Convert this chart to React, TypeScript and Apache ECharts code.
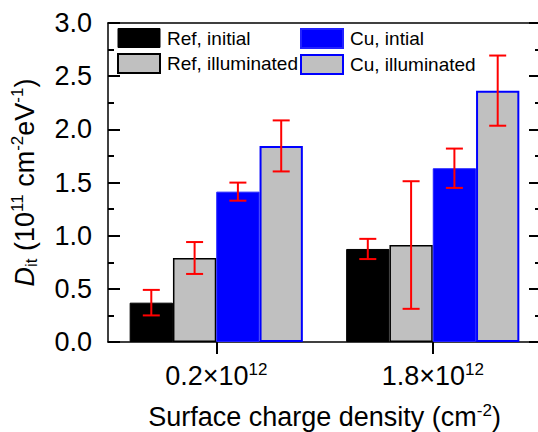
import React, { useEffect, useRef } from "react";
import * as echarts from "echarts";

// Surface charge density categories (mantissa of n×10^12 cm^-2)
const categories = ["0.2", "1.8"];
const categoryExponent = "12";

// Interface trap density D_it (10^11 cm^-2 eV^-1) and error half-widths
const refInitial = [0.37, 0.875];
const refInitialErr = [0.12, 0.095];
const refIlluminated = [0.79, 0.912];
const refIlluminatedErr = [0.15, 0.6];
const cuInitial = [1.414, 1.634];
const cuInitialErr = [0.085, 0.185];
const cuIlluminated = [1.844, 2.364];
const cuIlluminatedErr = [0.24, 0.33];

const seriesNames = ["Ref, initial", "Ref, illuminated", "Cu, intial", "Cu, illuminated"];

const FONT = '"Liberation Sans", Arial, sans-serif';
const BAR_FRACTION = 0.2;

const barStyles = [
  { color: "#000000", borderColor: "#000000", borderWidth: 1 },
  { color: "#c0c0c0", borderColor: "#000000", borderWidth: 1.5 },
  { color: "#0000ff", borderColor: "#2222ff", borderWidth: 1 },
  { color: "#c0c0c0", borderColor: "#0000ff", borderWidth: 2 },
];

function errorSeries(values: number[], errs: number[], slot: number) {
  return {
    type: "custom",
    name: seriesNames[slot] + " error",
    z: 10,
    silent: true,
    encode: { x: 0, y: 1 },
    data: values.map((v, i) => [i, v, errs[i]]),
    renderItem: (_params: any, api: any) => {
      const cat = api.value(0);
      const val = api.value(1);
      const err = api.value(2);
      const bw = api.size([1, 0])[0] * BAR_FRACTION;
      const top = api.coord([cat, val + err]);
      const bot = api.coord([cat, val - err]);
      const x = top[0] + (slot - 1.5) * bw;
      const cap = 8.5;
      const style = { stroke: "#ff0000", lineWidth: 2 };
      return {
        type: "group",
        children: [
          { type: "line", shape: { x1: x, y1: top[1], x2: x, y2: bot[1] }, style },
          { type: "line", shape: { x1: x - cap, y1: top[1], x2: x + cap, y2: top[1] }, style },
          { type: "line", shape: { x1: x - cap, y1: bot[1], x2: x + cap, y2: bot[1] }, style },
        ],
      };
    },
  };
}

export default function App() {
  const ref = useRef<HTMLDivElement>(null);

  useEffect(() => {
    if (!ref.current) return;
    const chart = echarts.init(ref.current, null, { renderer: "svg" });

    const valueSets = [refInitial, refIlluminated, cuInitial, cuIlluminated];
    const errSets = [refInitialErr, refIlluminatedErr, cuInitialErr, cuIlluminatedErr];

    const yAxisBase = () => ({
      type: "value",
      min: 0,
      max: 3,
      interval: 0.5,
      axisLine: { show: true, lineStyle: { color: "#000", width: 1.5 } },
      axisTick: { show: true, inside: true, length: 12, lineStyle: { color: "#000", width: 2 } },
      minorTick: { show: true, splitNumber: 2, length: 6, lineStyle: { color: "#000", width: 2 } },
      splitLine: { show: false },
      minorSplitLine: { show: false },
    });

    const legendCommon = {
      orient: "vertical",
      top: 28,
      itemWidth: 42,
      itemHeight: 19,
      itemGap: 5,
      padding: 0,
      icon: "rect",
      textStyle: { fontFamily: FONT, fontSize: 19, color: "#000", padding: [0, 0, 0, 2] },
    };

    const legendItem = (i: number) => ({
      name: seriesNames[i],
      itemStyle: { ...barStyles[i], borderWidth: i === 0 ? 1 : 2 },
    });

    chart.setOption({
      animation: false,
      backgroundColor: "#ffffff",
      grid: { left: 108, top: 23, width: 433, height: 319, outerBoundsMode: "none", containLabel: false },
      legend: [
        { ...legendCommon, left: 117, data: [legendItem(0), legendItem(1)] },
        { ...legendCommon, left: 300, data: [legendItem(2), legendItem(3)] },
      ],
      xAxis: [
        {
          type: "category",
          data: categories,
          boundaryGap: true,
          axisLine: { show: true, onZero: false, lineStyle: { color: "#000", width: 1.5 } },
          axisTick: { show: true, alignWithLabel: true, inside: false, length: 12, lineStyle: { color: "#000", width: 2 } },
          axisLabel: {
            margin: 19,
            formatter: (v: string) => `{base|${v}×10}{sup|${categoryExponent}}`,
            rich: {
              base: { fontFamily: FONT, fontSize: 27, color: "#000", lineHeight: 30 },
              sup: { fontFamily: FONT, fontSize: 17, color: "#000", lineHeight: 17, verticalAlign: "top" },
            },
          },
          name: "{t|Surface charge density (cm}{sup|-2}{t|)}",
          nameLocation: "middle",
          nameGap: 60,
          nameTextStyle: {
            rich: {
              t: { fontFamily: FONT, fontSize: 27, color: "#000", lineHeight: 30 },
              sup: { fontFamily: FONT, fontSize: 17, color: "#000", lineHeight: 17, verticalAlign: "top" },
            },
          },
        },
        {
          // top edge of the frame
          type: "category",
          data: categories,
          position: "top",
          axisLine: { show: true, onZero: false, lineStyle: { color: "#000", width: 1.5 } },
          axisTick: { show: false },
          axisLabel: { show: false },
        },
      ],
      yAxis: [
        {
          ...yAxisBase(),
          position: "left",
          axisLabel: {
            margin: 16,
            fontFamily: FONT,
            fontSize: 27,
            color: "#000",
            formatter: (v: number) => v.toFixed(1),
          },
          name: "{d|D}{sub|it}{t| (10}{sup|11}{t| cm}{sup|-2}{t|eV}{sup|-1}{t|)}",
          nameLocation: "middle",
          nameGap: 68,
          nameTextStyle: {
            rich: {
              d: { fontFamily: FONT, fontSize: 27, fontStyle: "italic", color: "#000", lineHeight: 31 },
              t: { fontFamily: FONT, fontSize: 27, color: "#000", lineHeight: 31 },
              sub: { fontFamily: FONT, fontSize: 17, color: "#000", lineHeight: 15, verticalAlign: "bottom" },
              sup: { fontFamily: FONT, fontSize: 17, color: "#000", lineHeight: 17, verticalAlign: "top" },
            },
          },
        },
        {
          ...yAxisBase(),
          position: "right",
          axisLabel: { show: false },
        },
      ],
      series: [
        ...valueSets.map((vals, i) => ({
          type: "bar",
          name: seriesNames[i],
          data: vals,
          barWidth: `${BAR_FRACTION * 100}%`,
          barGap: "0%",
          barCategoryGap: "20%",
          itemStyle: barStyles[i],
        })),
        ...valueSets.map((vals, i) => errorSeries(vals, errSets[i], i)),
      ],
    });

    return () => chart.dispose();
  }, []);

  return (
    <div
      ref={ref}
      style={{ position: "fixed", left: 0, top: 0, width: 538, height: 432, background: "#fff" }}
    />
  );
}
